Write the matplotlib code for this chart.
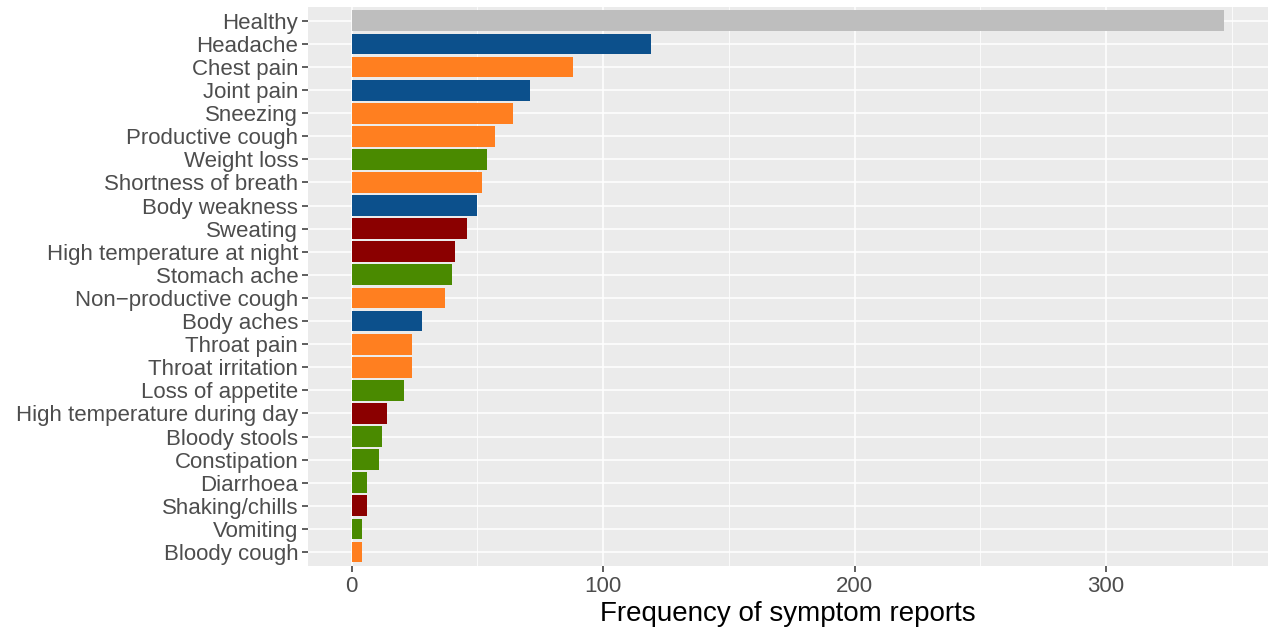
import numpy as np
import matplotlib.pyplot as plt
from matplotlib.ticker import MultipleLocator

plt.rcParams['font.family'] = ['Liberation Sans', 'DejaVu Sans']

# symptoms, top to bottom
symptoms = ["Healthy", "Headache", "Chest pain", "Joint pain", "Sneezing",
            "Productive cough", "Weight loss", "Shortness of breath",
            "Body weakness", "Sweating", "High temperature at night",
            "Stomach ache", "Non\u2212productive cough", "Body aches",
            "Throat pain", "Throat irritation", "Loss of appetite",
            "High temperature during day", "Bloody stools", "Constipation",
            "Diarrhoea", "Shaking/chills", "Vomiting", "Bloody cough"]
counts = [347, 119, 88, 71, 64, 57, 54, 52, 50, 46, 41, 40, 37, 28,
          24, 24, 21, 14, 12, 11, 6, 6, 4, 4]
groups = ["healthy", "general", "respiratory", "general", "respiratory",
          "respiratory", "digestive", "respiratory", "general", "fever",
          "fever", "digestive", "respiratory", "general", "respiratory",
          "respiratory", "digestive", "fever", "digestive", "digestive",
          "digestive", "fever", "digestive", "respiratory"]
group_colors = {"healthy": "#BEBEBE", "general": "#0C508C",
                "respiratory": "#FF7F20", "digestive": "#4A8A00",
                "fever": "#8B0000"}

fig = plt.figure(figsize=(12.71, 6.33), dpi=100)
ax = fig.add_axes([0.2423, 0.106, 0.7553, 0.883])
ax.set_facecolor("#EBEBEB")

y = np.arange(len(symptoms))
cols = [group_colors[g] for g in groups]
ax.barh(y, counts, height=0.9, color=cols, zorder=3)

ax.set_yticks(y)
ax.set_yticklabels(symptoms)
ax.set_ylim(len(symptoms) - 1 + 0.6, -0.6)
xmax = max(counts)
ax.set_xlim(-0.05 * xmax, xmax * 1.05)
ax.xaxis.set_major_locator(MultipleLocator(100))
ax.xaxis.set_minor_locator(MultipleLocator(50))

ax.grid(True, which="major", color="white", lw=1.1, zorder=1)
ax.grid(True, which="minor", axis="x", color="white", lw=0.55, zorder=1)
for s in ax.spines.values():
    s.set_visible(False)

ax.tick_params(axis="both", which="major", length=4, width=1.1,
               color="#333333", labelcolor="#4D4D4D", labelsize=16, pad=3)
ax.tick_params(axis="x", which="minor", length=0)
ax.set_xlabel("Frequency of symptom reports", fontsize=20, color="black",
              labelpad=3)

fig.savefig("out.png", dpi=100)
